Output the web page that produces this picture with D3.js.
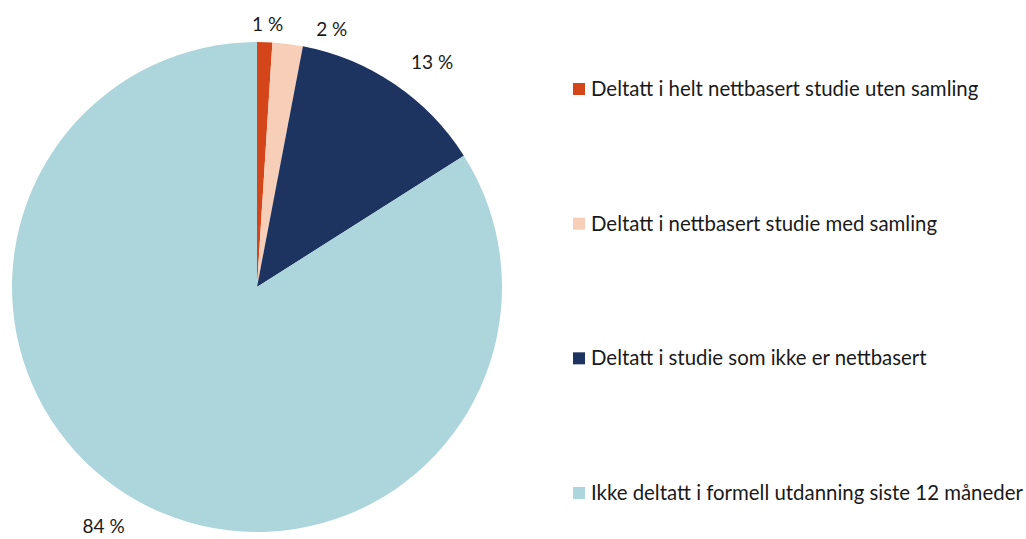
<!DOCTYPE html>
<html>
<head>
<meta charset="utf-8">
<script src="https://cdn.jsdelivr.net/npm/d3@7"></script>
<style>
  body { margin: 0; background: #fff; }
  text { font-family: Lato, "Noto Sans", sans-serif; fill: #1a1a1a; }
</style>
</head>
<body>
<svg id="chart" width="1026" height="539"></svg>
<script>
const categories = [
  "Deltatt i helt nettbasert studie uten samling",
  "Deltatt i nettbasert studie med samling",
  "Deltatt i studie som ikke er nettbasert",
  "Ikke deltatt i formell utdanning siste 12 måneder"
];
const values = [1, 2, 13, 84];
const labels = ["1 %", "2 %", "13 %", "84 %"];
const colors = ["#d4461a", "#f7cfb8", "#1d3461", "#acd6db"];

const svg = d3.select("#chart");
const cx = 257, cy = 287, r = 245;

const pie = d3.pie().sort(null).value(d => d);
const arcs = pie(values);
const arc = d3.arc().innerRadius(0).outerRadius(r);

const g = svg.append("g").attr("transform", `translate(${cx},${cy})`);
g.selectAll("path.slice")
  .data(arcs)
  .join("path")
  .attr("class", "slice")
  .attr("d", arc)
  .attr("fill", (d, i) => colors[i]);

// outside labels: bisector angle, pushed apart a bit where slices are thin
const labelShift = [[0.5, 18], [9, 23], [3.7, 40], [3.9, 39]]; // [deg, px beyond rim]
const toRad = Math.PI / 180;
g.selectAll("text.lbl")
  .data(arcs)
  .join("text")
  .attr("class", "lbl")
  .attr("transform", (d, i) => {
    const a = (d.startAngle + d.endAngle) / 2 + labelShift[i][0] * toRad;
    const rr = r + labelShift[i][1];
    return `translate(${rr * Math.sin(a)},${-rr * Math.cos(a)})`;
  })
  .attr("text-anchor", "middle")
  .attr("dy", "0.35em")
  .style("font-size", "19px")
  .text((d, i) => labels[i]);

// legend
const legendY = d3.scalePoint().domain(categories).range([89, 493]);
const lg = svg.append("g").selectAll("g")
  .data(categories)
  .join("g")
  .attr("transform", d => `translate(573,${legendY(d)})`);
lg.append("rect")
  .attr("x", 0).attr("y", -6)
  .attr("width", 12).attr("height", 12)
  .attr("fill", (d, i) => colors[i]);
lg.append("text")
  .attr("x", 18).attr("dy", "0.35em")
  .style("font-size", "20.4px")
  .text(d => d);
</script>
</body>
</html>
